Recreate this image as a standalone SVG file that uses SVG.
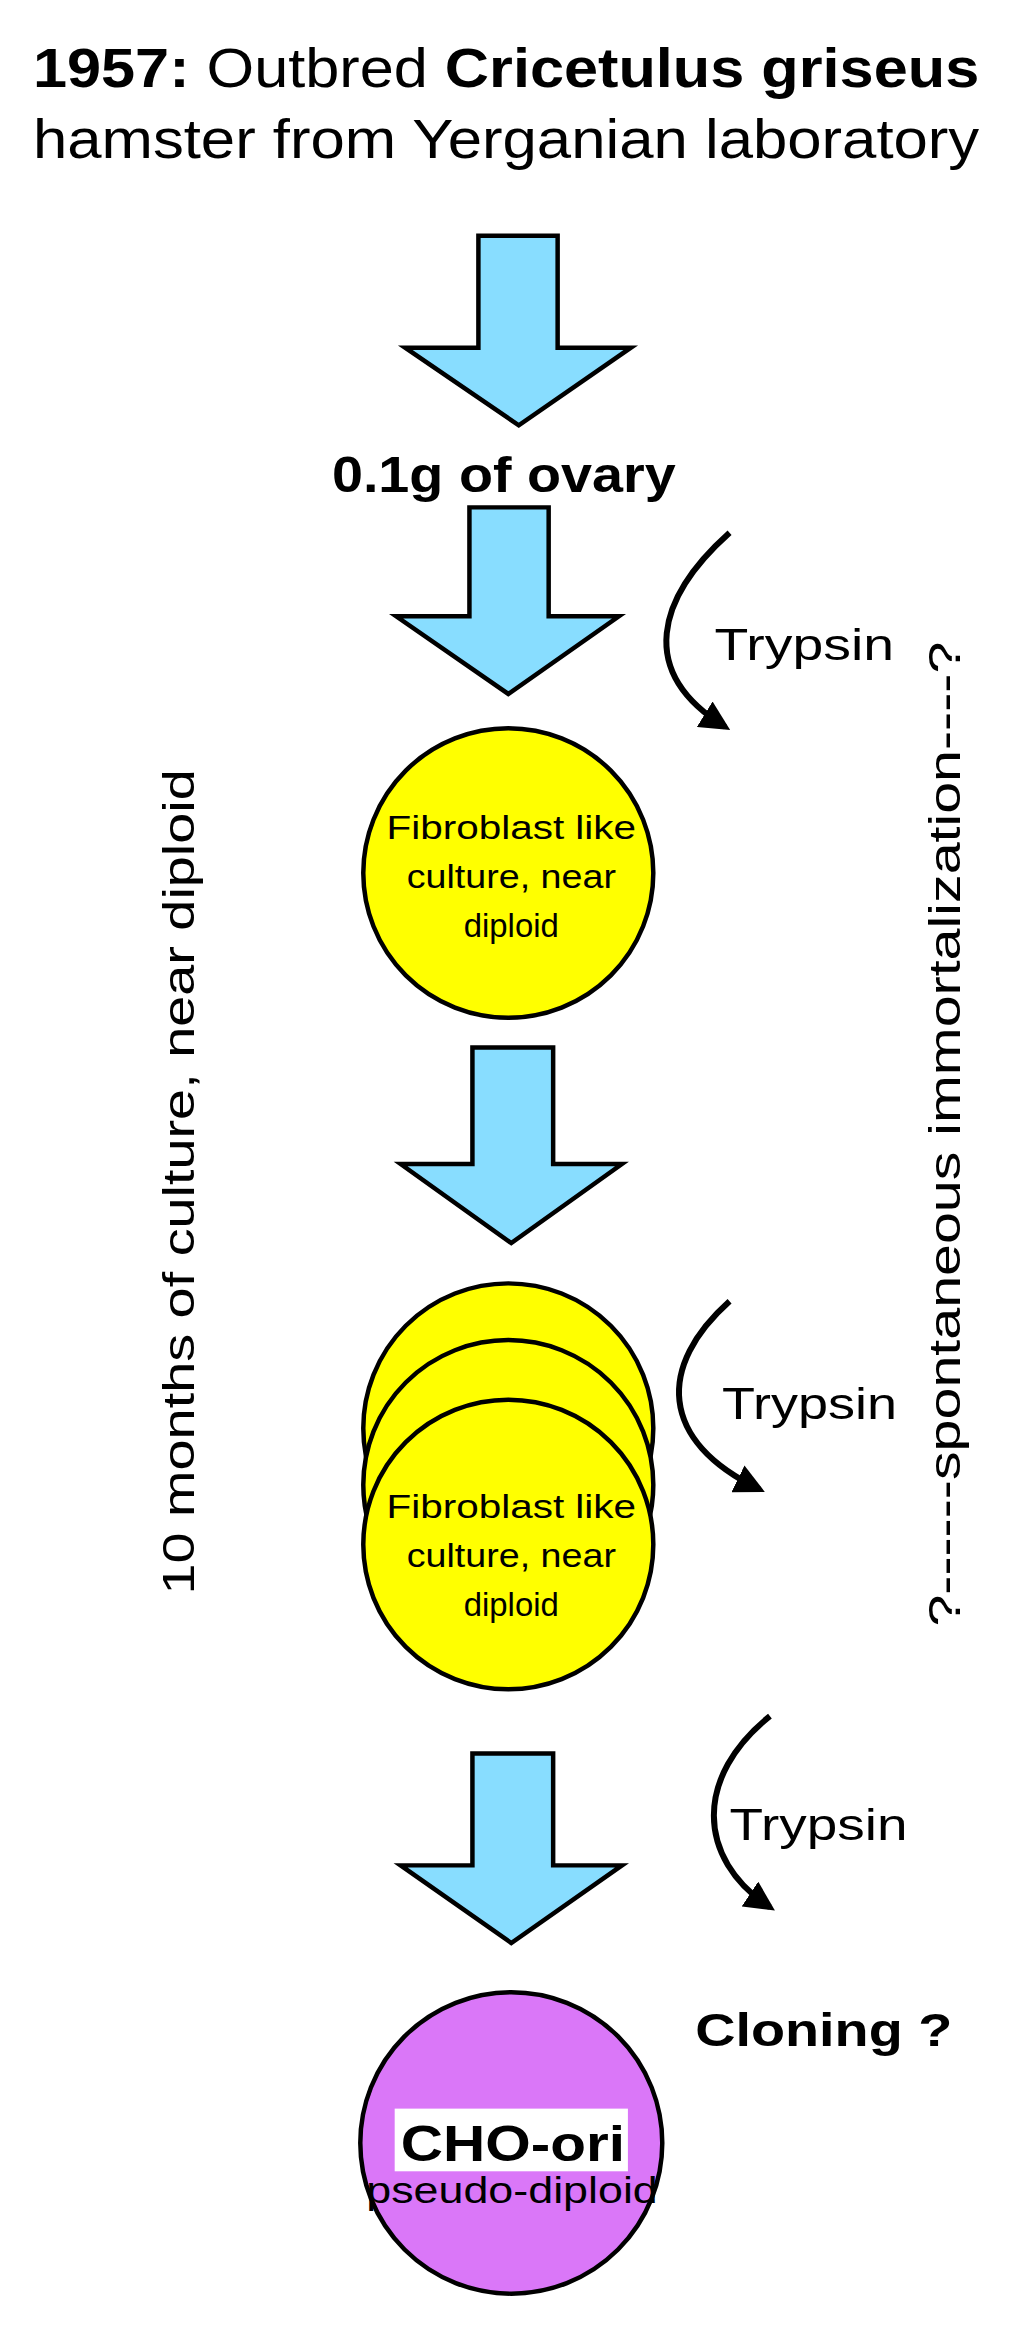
<svg xmlns="http://www.w3.org/2000/svg" width="1024" height="2340" viewBox="0 0 1024 2340">
<defs>
<style>
text{font-family:"Liberation Sans",Arial,sans-serif;fill:#000}
.arr{fill:#88DDFF;stroke:#000;stroke-width:3}
.cell{fill:#FFFF00;stroke:#000;stroke-width:3}
.cv{fill:none;stroke:#000;stroke-width:4}
.lbl{font-size:22px;text-anchor:middle}
.tr{font-size:30px}
</style>
<marker id="ah" viewBox="0 0 10 10" refX="8" refY="5" markerWidth="5" markerHeight="5" orient="auto" markerUnits="strokeWidth">
<path d="M0,0 L10,5 L0,10 Z" fill="#000"/>
</marker>
</defs>
<rect width="1024" height="2340" fill="#fff"/>
<g transform="scale(1.495,1.4923)">
<g id="title">
<text x="22" y="58" font-size="37" textLength="633" lengthAdjust="spacingAndGlyphs"><tspan font-weight="bold">1957:</tspan> Outbred <tspan font-weight="bold">Cricetulus griseus</tspan></text>
<text x="22" y="106" font-size="37" textLength="633" lengthAdjust="spacingAndGlyphs">hamster from Yerganian laboratory</text>
</g>
<g id="connectors">
<path class="arr" d="M320,158 H373 V233 H422 L347,285 L271,233 H320 Z"/>
<path class="arr" d="M314,340 H367 V413 H414 L340,465 L265,413 H314 Z"/>
<path class="arr" d="M316,702 H370 V780 H416 L342,833 L268,780 H316 Z"/>
<path class="arr" d="M316,1175 H370 V1250 H416 L342,1302 L268,1250 H316 Z"/>
<path class="cv" d="M488,357 C440,400 425,450 485,487" marker-end="url(#ah)"/>
<path class="cv" d="M488,872 C440,915 440,965 508,998" marker-end="url(#ah)"/>
<path class="cv" d="M515,1150 C465,1190 465,1245 515,1278" marker-end="url(#ah)"/>
</g>
<g id="ovary"><text x="222" y="330" font-size="33" font-weight="bold" textLength="230" lengthAdjust="spacingAndGlyphs">0.1g of ovary</text></g>
<g id="trypsin1"><text class="tr" x="478" y="442" textLength="120" lengthAdjust="spacingAndGlyphs">Trypsin</text></g>
<g id="trypsin2"><text class="tr" x="483" y="951" textLength="117" lengthAdjust="spacingAndGlyphs">Trypsin</text></g>
<g id="trypsin3"><text class="tr" x="488" y="1233" textLength="119" lengthAdjust="spacingAndGlyphs">Trypsin</text></g>
<g id="culture1">
<circle class="cell" cx="340" cy="585" r="97"/>
<text class="lbl" x="342" y="562" textLength="167" lengthAdjust="spacingAndGlyphs">Fibroblast like</text>
<text class="lbl" x="342" y="595" textLength="140" lengthAdjust="spacingAndGlyphs">culture, near</text>
<text class="lbl" x="342" y="628">diploid</text>
</g>
<g id="culture2">
<circle class="cell" cx="340" cy="957" r="97"/>
<circle class="cell" cx="340" cy="995" r="97"/>
<circle class="cell" cx="340" cy="1035" r="97"/>
<text class="lbl" x="342" y="1017" textLength="167" lengthAdjust="spacingAndGlyphs">Fibroblast like</text>
<text class="lbl" x="342" y="1050" textLength="140" lengthAdjust="spacingAndGlyphs">culture, near</text>
<text class="lbl" x="342" y="1083">diploid</text>
</g>
<g id="cloning"><text x="465" y="1371" font-size="31" font-weight="bold" textLength="172" lengthAdjust="spacingAndGlyphs">Cloning ?</text></g>
<g id="cho">
<circle cx="342" cy="1436" r="101" fill="#DA77F8" stroke="#000" stroke-width="3"/>
<rect x="264" y="1413" width="156" height="42" fill="#fff"/>
<text x="268" y="1448" font-size="34" font-weight="bold" textLength="150" lengthAdjust="spacingAndGlyphs">CHO-ori</text>
<text x="245" y="1476" font-size="25" textLength="195" lengthAdjust="spacingAndGlyphs">pseudo-diploid</text>
</g>
<g id="left-label"><text transform="translate(130,792) rotate(-90)" font-size="30" text-anchor="middle" textLength="553" lengthAdjust="spacingAndGlyphs">10 months of culture, near diploid</text></g>
<g id="right-label"><text transform="translate(642,760) rotate(-90)" font-size="30" text-anchor="middle" textLength="660" lengthAdjust="spacingAndGlyphs">?------spontaneous immortalization----?</text></g>
</g>
</svg>
